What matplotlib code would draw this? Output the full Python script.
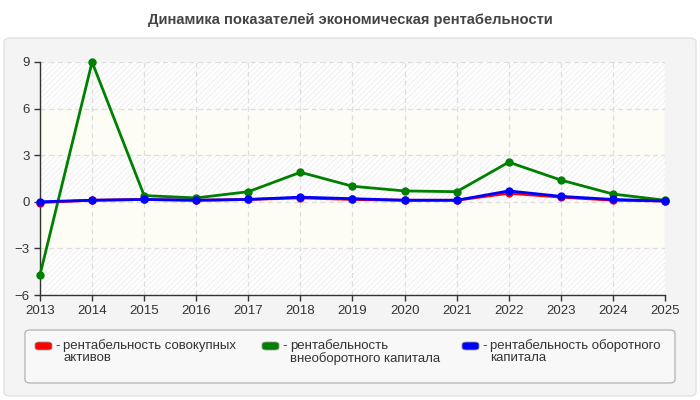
import matplotlib
matplotlib.use("Agg")
import matplotlib.pyplot as plt
from matplotlib.patches import FancyBboxPatch

plt.rcParams['font.family'] = ['Liberation Sans', 'DejaVu Sans']

title = "Динамика показателей экономическая рентабельности"
years = [2013, 2014, 2015, 2016, 2017, 2018, 2019, 2020, 2021, 2022, 2023, 2024, 2025]
red_vals = [-0.05, 0.1, 0.15, 0.1, 0.15, 0.25, 0.15, 0.1, 0.1, 0.55, 0.3, 0.1, 0.05]
green_vals = [-4.7, 9.0, 0.4, 0.25, 0.65, 1.9, 1.0, 0.7, 0.65, 2.55, 1.4, 0.5, 0.1]
blue_vals = [0.0, 0.1, 0.15, 0.1, 0.15, 0.3, 0.2, 0.1, 0.1, 0.7, 0.35, 0.15, 0.05]
yticks = [-6, -3, 0, 3, 6, 9]
labels = ["рентабельность совокупных\nактивов",
          "рентабельность\nвнеоборотного капитала",
          "рентабельность оборотного\nкапитала"]
colors = ["#ff0000", "#008000", "#0000ff"]

W, H = 700, 400
fig = plt.figure(figsize=(7, 4), dpi=100)
fig.patch.set_facecolor("white")

def fx(px):
    return px / W

def fy(py):
    return 1 - py / H

# outer panel
panel = FancyBboxPatch((fx(4), fy(396)), fx(692), (396 - 38) / H,
                       boxstyle="round,pad=0,rounding_size=0.01",
                       transform=fig.transFigure, facecolor="#f4f4f4",
                       edgecolor="#e2e2e2", linewidth=1, zorder=-10)
fig.patches.append(panel)

fig.text(0.5, fy(20), title, ha="center", va="center", fontsize=10.6,
         fontweight="bold", color="#444444")

ax = fig.add_axes([fx(40), fy(295), fx(665 - 40), (295 - 62) / H])
ax.set_zorder(1)
ax.set_facecolor("white")
plt.rcParams['hatch.linewidth'] = 0.5
plt.rcParams['hatch.color'] = "#e8e8e8"
for i, (lo, hi) in enumerate(zip(yticks[:-1], yticks[1:])):
    if i % 2 == 0:
        ax.axhspan(lo, hi, facecolor="white", edgecolor="#e8e8e8", hatch="//////", linewidth=0, zorder=0)
    else:
        ax.axhspan(lo, hi, facecolor="#fdfdf6", linewidth=0, zorder=0)

for y in yticks:
    ax.axhline(y, color="#dddddd", linestyle=(0, (4, 3)), linewidth=0.9, zorder=1)
for x in years:
    ax.axvline(x, color="#dddddd", linestyle=(0, (4, 3)), linewidth=0.9, zorder=1)

for vals, c in zip([red_vals, green_vals, blue_vals], colors):
    ax.plot(years, vals, color=c, linewidth=2, marker="o", markersize=5, zorder=3, clip_on=False)

ax.set_xlim(years[0], years[-1])
ax.set_ylim(yticks[0], yticks[-1])
ax.set_xticks(years)
ax.set_yticks(yticks)
ax.tick_params(axis="both", labelsize=9.5, colors="#333333", length=4, width=1, direction="out")
for s in ["top", "right"]:
    ax.spines[s].set_visible(False)
for s in ["left", "bottom"]:
    ax.spines[s].set_color("#333333")
    ax.spines[s].set_linewidth(1)

# legend box
lb = FancyBboxPatch((fx(25), fy(383)), fx(650), (383 - 330) / H,
                    boxstyle="round,pad=0,rounding_size=0.008",
                    transform=fig.transFigure, facecolor="#f8f8f8",
                    edgecolor="#aaaaaa", linewidth=0.8, zorder=1)
fig.patches.append(lb)

xs = [35, 262, 462]
for x0, lab, c in zip(xs, labels, colors):
    p = FancyBboxPatch((fx(x0), fy(350)), fx(17), 8 / H,
                       boxstyle="round,pad=0,rounding_size=0.006",
                       transform=fig.transFigure, facecolor=c,
                       edgecolor="#999999", linewidth=0.6, zorder=2)
    fig.patches.append(p)
    fig.text(fx(x0 + 20), fy(346), "-", ha="left", va="center", fontsize=9.5, color="#333333")
    fig.text(fx(x0 + 28), fy(339), lab, ha="left", va="top", fontsize=9.5,
             color="#333333", linespacing=1.0)

fig.savefig("out.png", dpi=100)
